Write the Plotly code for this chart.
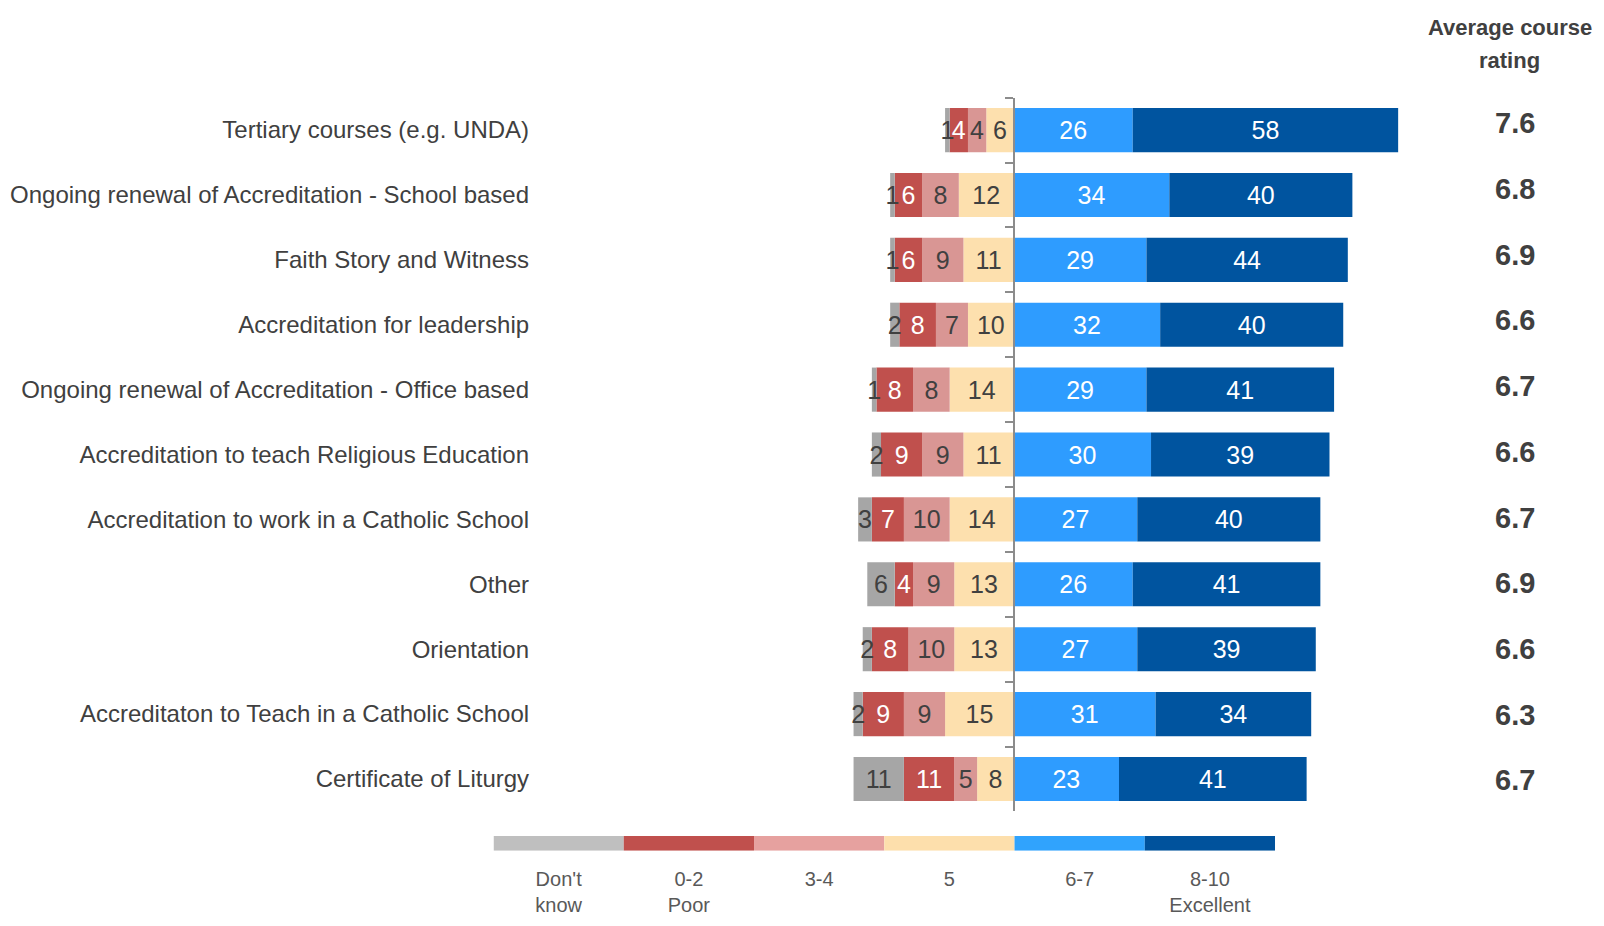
import plotly.graph_objects as go

# ---------------- data ----------------
courses = [
    "Tertiary courses (e.g. UNDA)",
    "Ongoing renewal of Accreditation - School based",
    "Faith Story and Witness",
    "Accreditation for leadership",
    "Ongoing renewal of Accreditation - Office based",
    "Accreditation to teach Religious Education",
    "Accreditation to work in a Catholic School",
    "Other",
    "Orientation",
    "Accreditaton to Teach in a Catholic School",
    "Certificate of Liturgy",
]
dont_know = [1, 1, 1, 2, 1, 2, 3, 6, 2, 2, 11]
poor_0_2 = [4, 6, 6, 8, 8, 9, 7, 4, 8, 9, 11]
r_3_4 = [4, 8, 9, 7, 8, 9, 10, 9, 10, 9, 5]
r_5 = [6, 12, 11, 10, 14, 11, 14, 13, 13, 15, 8]
r_6_7 = [26, 34, 29, 32, 29, 30, 27, 26, 27, 31, 23]
r_8_10 = [58, 40, 44, 40, 41, 39, 40, 41, 39, 34, 41]
avg_rating = [7.6, 6.8, 6.9, 6.6, 6.7, 6.6, 6.7, 6.9, 6.6, 6.3, 6.7]

legend_labels = ["Don't<br>know", "0-2<br>Poor", "3-4", "5", "6-7", "8-10<br>Excellent"]

# ---------------- style ----------------
OFF = 8  # default page body margin
W, H = 1604 - 2 * OFF, 926 - 2 * OFF
ML, MR, MT, MB = 2, 2, 2, 2
PW, PH = W - ML - MR, H - MT - MB

def px_x(p):
    return (p - OFF - ML) / PW

def px_y(p):
    return (H - MB - (p - OFF)) / PH

FONT = "Liberation Sans Narrow, Arial Narrow, Liberation Sans, Arial, sans-serif"
FONT_B = "Liberation Sans, Arial, sans-serif"
DARK = "#404040"

bar_cols = ["#a6a6a6", "#c0504d", "#d99694", "#fde0ae", "#2e9cff", "#00549f"]
leg_cols = ["#bfbfbf", "#c0504d", "#e6a19f", "#fddfac", "#30a3fd", "#00529c"]
txt_cols = [DARK, "white", DARK, DARK, "white", "white"]

X_MIN, X_MAX = -103.5, 90

fig = go.Figure()

neg_series = [(r_5, 3), (r_3_4, 2), (poor_0_2, 1), (dont_know, 0)]
pos_series = [(r_6_7, 4), (r_8_10, 5)]
for vals, ci in neg_series + pos_series:
    sign = -1 if ci < 4 else 1
    fig.add_trace(go.Bar(
        y=courses, x=[sign * v for v in vals], orientation="h",
        marker=dict(color=bar_cols[ci], line=dict(width=0)),
        text=[str(v) for v in vals], textposition="inside",
        insidetextanchor="middle", textangle=0, constraintext="none",
        insidetextfont=dict(color=txt_cols[ci], size=25, family=FONT),
        hoverinfo="skip", showlegend=False, xaxis="x", yaxis="y",
    ))

# invisible trace to populate the zero-line axis
fig.add_trace(go.Scatter(
    x=[0] * len(courses), y=courses, mode="markers",
    marker=dict(opacity=0), hoverinfo="skip", showlegend=False,
    xaxis="x", yaxis="y2",
))

# legend strip
fig.add_trace(go.Bar(
    x=legend_labels, y=[1] * len(legend_labels), width=[1] * len(legend_labels),
    marker=dict(color=leg_cols, line=dict(width=0)),
    hoverinfo="skip", showlegend=False, xaxis="x3", yaxis="y3",
))

x_dom = [px_x(530), px_x(1424)]
y_dom = [px_y(824), px_y(99)]
zero_pos = x_dom[0] + (0 - X_MIN) / (X_MAX - X_MIN) * (x_dom[1] - x_dom[0])
yrange = [len(courses) - 0.5, -0.5]

fig.update_layout(
    width=W, height=H, autosize=False,
    margin=dict(l=ML, r=MR, t=MT, b=MB),
    paper_bgcolor="white", plot_bgcolor="white",
    barmode="relative", bargap=0.32,
    font=dict(family=FONT, color=DARK),
    xaxis=dict(domain=x_dom, range=[X_MIN, X_MAX], visible=False, fixedrange=True),
    yaxis=dict(domain=y_dom, type="category", categoryorder="array",
               categoryarray=courses, range=yrange, showline=False, ticks="",
               showgrid=False, tickfont=dict(size=24, color=DARK, family=FONT),
               ticklabelstandoff=10),
    yaxis2=dict(overlaying="y", anchor="free", position=zero_pos, side="left",
                type="category", categoryorder="array", categoryarray=courses,
                range=yrange, showline=True, linecolor="#8c8c8c", linewidth=1.5,
                ticks="outside", ticklen=8, tickcolor="#8c8c8c", tickwidth=1.5,
                tickson="boundaries", showticklabels=False, showgrid=False),
    xaxis3=dict(domain=[px_x(483), px_x(1272)], anchor="y3", type="category",
                showline=False, ticks="", showgrid=False,
                tickfont=dict(size=20, color="#595959", family=FONT),
                ticklabelstandoff=14),
    yaxis3=dict(domain=[px_y(864), px_y(849)], anchor="x3", range=[0, 1],
                visible=False),
)

# rating column
for line, ypx in [("Average course", 28), ("rating", 61)]:
    fig.add_annotation(
        x=px_x(1509), y=px_y(ypx), xref="paper", yref="paper",
        text=line, showarrow=False,
        font=dict(size=22, color=DARK, family=FONT_B, weight="bold"),
        xanchor="center", yanchor="middle",
    )
n = len(courses)
for i, (c, r) in enumerate(zip(courses, avg_rating)):
    fig.add_annotation(
        x=px_x(1514), y=c, xref="paper", yref="y", text=f"{r:.1f}",
        showarrow=False, yshift=7 - 8.5 * i / (n - 1),
        font=dict(size=29, color=DARK, family=FONT_B, weight="bold"),
        xanchor="center", yanchor="middle",
    )

fig.write_html("out.html")
